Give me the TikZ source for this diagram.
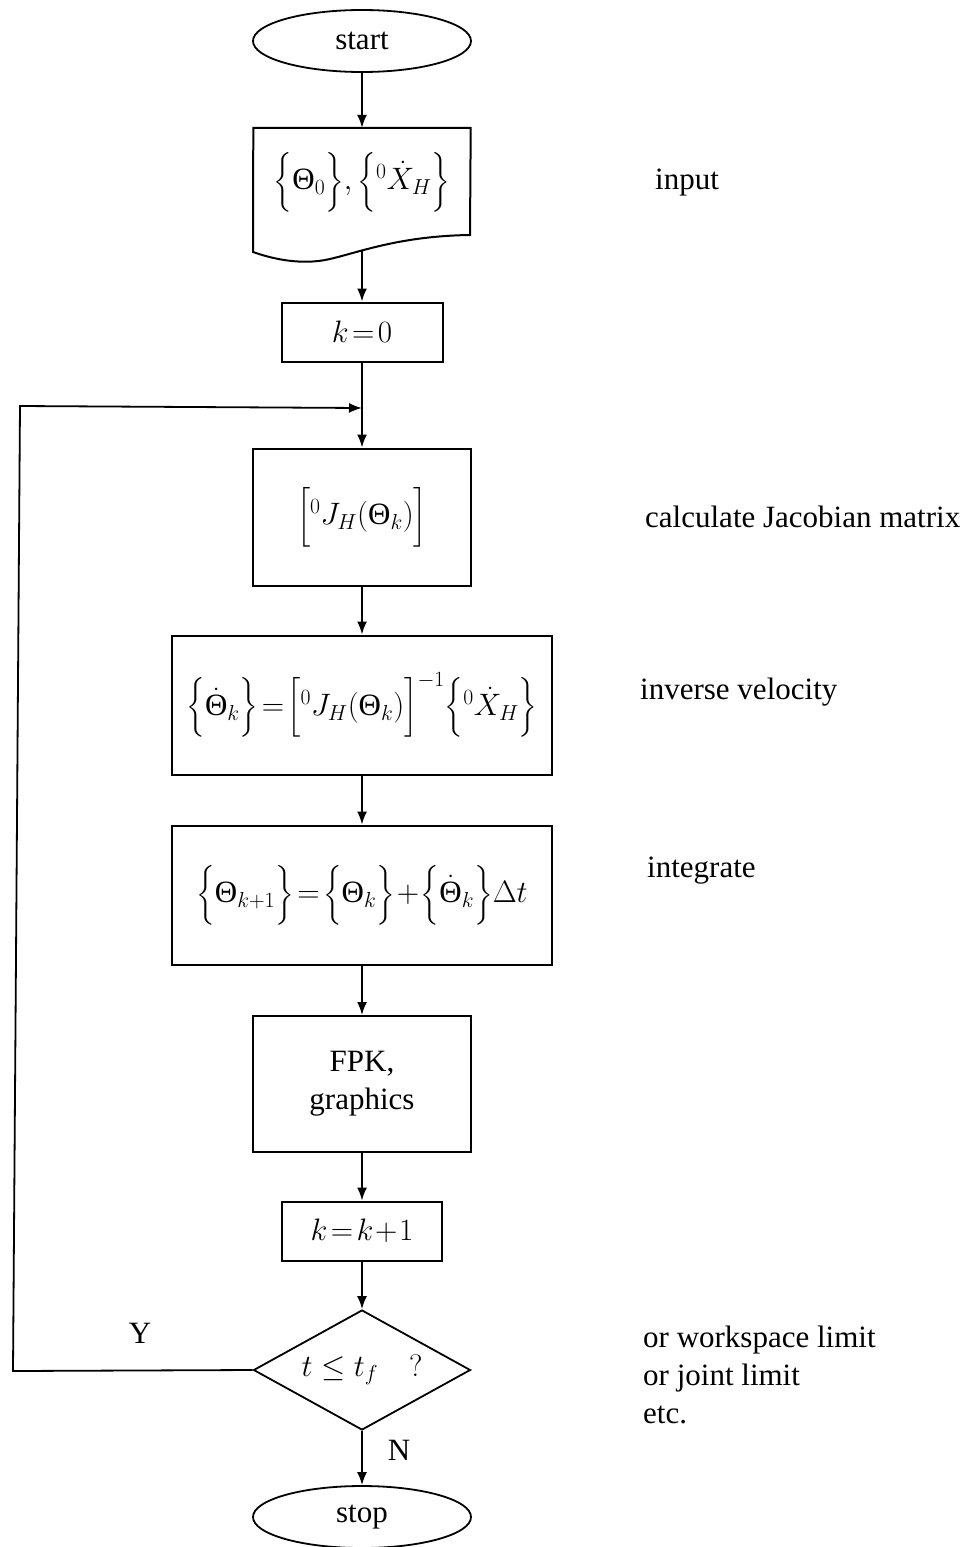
\RequirePackage{fix-cm}
\documentclass[tikz,border=0pt]{standalone}
\usepackage{amsmath}
\usepackage{fontspec}
\setmainfont{Liberation Serif}
\usetikzlibrary{shapes.geometric,arrows.meta}
\newcommand{\Th}{\text{Θ}}
\begin{document}
\begin{tikzpicture}[x=1pt,y=-1pt,
  every node/.style={font=\fontsize{31}{38}\selectfont},
  box/.style={draw,line width=2pt,inner sep=0pt},
  term/.style={draw,ellipse,line width=1.8pt,inner sep=0pt},
  flow/.style={line width=1.8pt,-{Latex[length=13pt,width=10pt]}},
  note/.style={anchor=west,align=left,inner sep=0pt}]
\useasboundingbox (0,0) rectangle (972,1547);
% nodes
\node[term,minimum width=218pt,minimum height=62pt] (start) at (362,41) {start};
\node[inner sep=0pt,minimum width=217pt,minimum height=122pt] (in) at (362,189) {};
\draw[line width=2pt] (in.north west) -- (in.north east) -- (470,235)
  .. controls (400,236) and (360,252) .. (330,259)
  .. controls (300,266) and (270,258) .. (253,252) -- cycle;
\node at (362,182) {$\Bigl\{\Th_0\Bigr\},\Bigl\{{}^0\dot X_H\Bigr\}$};
\node[box,minimum width=161pt,minimum height=59pt] (k0) at (362,332) {$k\!=\!0$};
\node[box,minimum width=218pt,minimum height=137pt] (jac) at (362,517) {$\Bigl[{}^0J_H(\Th_k)\Bigr]$};
\node[box,minimum width=380pt,minimum height=139pt] (inv) at (362,705) {$\Bigl\{\dot\Th_k\Bigr\}\!=\!\Bigl[{}^0J_H(\Th_k)\Bigr]^{-1}\Bigl\{{}^0\dot X_H\Bigr\}$};
\node[box,minimum width=380pt,minimum height=139pt] (int) at (362,895) {$\Bigl\{\Th_{k+1}\Bigr\}\!=\!\Bigl\{\Th_k\Bigr\}\!+\!\Bigl\{\dot\Th_k\Bigr\}\Delta t$};
\node[box,minimum width=218pt,minimum height=136pt,align=center] (fpk) at (362,1084) {FPK,\\graphics};
\node[box,minimum width=160pt,minimum height=59pt] (k1) at (362,1231) {$k\!=\!k\!+\!1$};
\node[draw,diamond,line width=1.8pt,aspect=1.8,minimum width=217pt,minimum height=120pt,inner sep=0pt] (dec) at (362,1370) {$t\le t_f\quad ?$};
\node[term,minimum width=218pt,minimum height=62pt] (stop) at (362,1517) {stop};
% side notes
\node[note] (n1) at (655,183) {input};
\node[note] (n2) at (645,517) {calculate Jacobian matrix};
\node[note] (n3) at (640,692) {inverse velocity};
\node[note] (n4) at (647,871) {integrate};
\node[note] (n5) at (643,1375) {or workspace limit\\or joint limit\\etc.};
\node (Y) at (140,1333) {Y};
\node (N) at (399,1450) {N};
% connectors
\coordinate (inb) at (362,251);
\coordinate (join) at (362,408);
\coordinate (c1) at (13,1371);
\coordinate (c2) at (20,406);
\draw[flow] (start) -- (in.north);
\draw[flow] (inb) -- (k0);
\draw[flow] (k0) -- (jac);
\draw[flow] (jac) -- (inv);
\draw[flow] (inv) -- (int);
\draw[flow] (int) -- (fpk);
\draw[flow] (fpk) -- (k1);
\draw[flow] (k1) -- (dec);
\draw[flow] (dec) -- (stop);
\draw[flow] (dec.west) -- (c1) -- (c2) -- (join);
\end{tikzpicture}
\end{document}
